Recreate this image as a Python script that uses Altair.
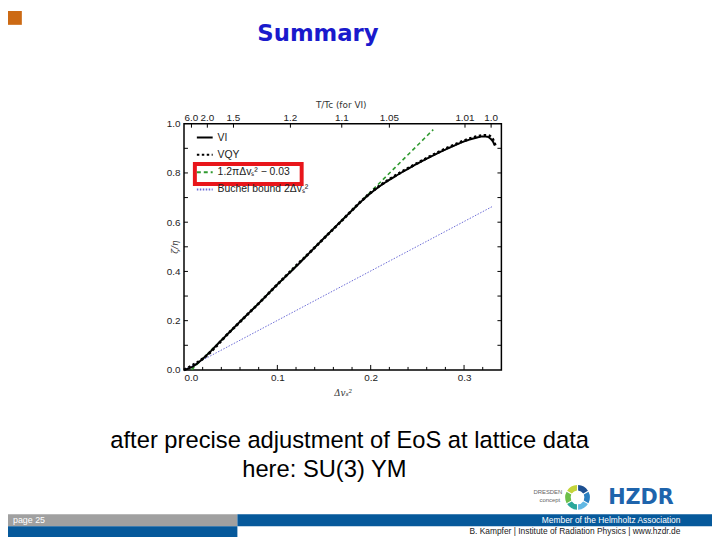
import altair as alt
import pandas as pd

# ---------------- data ----------------
vi_x = [0.0, 0.01, 0.02, 0.04, 0.06, 0.08, 0.10, 0.12, 0.14, 0.16, 0.18, 0.19, 0.20, 0.21, 0.22,
        0.23, 0.24, 0.25, 0.26, 0.27, 0.28, 0.29, 0.30, 0.31, 0.315, 0.32, 0.325, 0.328, 0.331, 0.333]
vi_y = [0.0, 0.015, 0.045, 0.12, 0.196, 0.27, 0.347, 0.42, 0.497, 0.573, 0.648, 0.685, 0.718, 0.747,
        0.772, 0.795, 0.817, 0.838, 0.858, 0.877, 0.895, 0.912, 0.928, 0.94, 0.945, 0.948, 0.947,
        0.94, 0.927, 0.912]
vqy_x = [0.0, 0.02, 0.05, 0.08, 0.11, 0.14, 0.17, 0.19, 0.20, 0.21, 0.22, 0.24, 0.26, 0.28, 0.30,
         0.31, 0.32, 0.325, 0.329, 0.332, 0.334]
vqy_y = [0.0, 0.045, 0.158, 0.27, 0.385, 0.497, 0.61, 0.686, 0.72, 0.749, 0.774, 0.819, 0.86, 0.898,
         0.931, 0.944, 0.952, 0.953, 0.945, 0.927, 0.905]
green_x = [0.008, 0.267]
green_y = [0.0, 0.976]
blue_x = [0.0, 0.33]
blue_y = [0.0, 0.663]

series_names = ["VI", "VQY", "1.2πΔvₛ² − 0.03", "Buchel bound 2Δvₛ²"]
series_colors = ["#000000", "#000000", "#2f9a2f", "#6a6ad6"]
series_dashes = [[1, 0], [2.5, 2.5], [4, 3], [1.5, 1.5]]
series_widths = [2.0, 2.8, 1.6, 1.0]

x_ticks = [0.0, 0.1, 0.2, 0.3]
x_minor = [0.02, 0.04, 0.06, 0.08, 0.12, 0.14, 0.16, 0.18, 0.22, 0.24, 0.26, 0.28, 0.32]
y_ticks = [0.0, 0.2, 0.4, 0.6, 0.8, 1.0]
y_minor = [0.1, 0.2, 0.3, 0.4, 0.5, 0.6, 0.7, 0.8, 0.9]
top_vals = [0.008, 0.025, 0.053, 0.114, 0.169, 0.220, 0.301, 0.329]
top_labels = ["6.0", "2.0", "1.5", "1.2", "1.1", "1.05", "1.01", "1.0"]

slide_title = "Summary"
body_lines = ["after precise adjustment of EoS at lattice data", "here: SU(3) YM"]
footer_page = "page 25"
footer_member = "Member of the Helmholtz Association"
footer_credit = "B. Kampfer  |  Institute of Radiation Physics  |  www.hzdr.de"
logo_colors = ["#1d4f91", "#2a7fc1", "#62b8e4", "#2aa79b", "#6cbf4a", "#c4d43a"]
logo_parts = [1, 1, 1, 1, 1, 1]

# ---------------- chart ----------------
W, H = 321, 249
xs = alt.Scale(domain=[0, 0.34], nice=False, zero=False)
ys = alt.Scale(domain=[0, 1.0], nice=False)
xaxis = alt.Axis(values=x_ticks, format=".1f", title="Δvₛ²", titleFont="DejaVu Serif",
                 titleFontStyle="italic", titleFontSize=9, titleFontWeight="normal",
                 titlePadding=6, titleColor="#333")
yaxis = alt.Axis(values=y_ticks, format=".1f", title="ζ/η", titleFont="DejaVu Serif",
                 titleFontStyle="italic", titleFontSize=9, titleFontWeight="normal",
                 titleX=-10, titleY=H / 2, titleAlign="center", titleBaseline="middle",
                 titleColor="#333", labelPadding=4)
legend = alt.Legend(orient="none", legendX=12, legendY=5, title=None, symbolType="stroke",
                    symbolSize=256, symbolStrokeWidth=2, labelFont="Liberation Sans",
                    labelFontSize=10.5, labelColor="#222", padding=0, rowPadding=2.5,
                    labelOffset=4)


def X(field="x"):
    return alt.X(f"{field}:Q", scale=xs, axis=xaxis)


def Y(field="y"):
    return alt.Y(f"{field}:Q", scale=ys, axis=yaxis)


series_data = [(vi_x, vi_y), (vqy_x, vqy_y), (green_x, green_y), (blue_x, blue_y)]
line_layers = []
for idx in [3, 2, 0, 1]:
    sx, sy = series_data[idx]
    df = pd.DataFrame({"x": sx, "y": sy, "series": series_names[idx]})
    line_layers.append(
        alt.Chart(df).mark_line(strokeWidth=series_widths[idx], strokeCap="butt",
                                interpolate="monotone").encode(
            x=X(), y=Y(),
            color=alt.Color("series:N", scale=alt.Scale(domain=series_names, range=series_colors),
                            legend=legend),
            strokeDash=alt.StrokeDash("series:N",
                                      scale=alt.Scale(domain=series_names, range=series_dashes),
                                      legend=legend),
        )
    )

one = pd.DataFrame({"a": [0]})


def rect(x1, x2, y1, y2, color):
    return alt.Chart(one).mark_rect(color=color).encode(
        x=alt.value(x1), x2=alt.value(x2), y=alt.value(y1), y2=alt.value(y2))


def txt(s, x, y, size, color="#000", font="Liberation Sans", weight="normal", align="center",
        style="normal"):
    return alt.Chart(pd.DataFrame({"t": [s]})).mark_text(
        align=align, baseline="alphabetic", font=font, fontSize=size, fontWeight=weight,
        fontStyle=style, color=color).encode(text="t:N", x=alt.value(x), y=alt.value(y))


# inward ticks
tk = "#000"
xmaj = alt.Chart(pd.DataFrame({"x": x_ticks[1:]})).mark_rule(color=tk, strokeWidth=1).encode(
    x=X(), y=alt.value(H), y2=alt.value(H - 5))
xmin = alt.Chart(pd.DataFrame({"x": x_minor})).mark_rule(color=tk, strokeWidth=1).encode(
    x=X(), y=alt.value(H), y2=alt.value(H - 3))
yl = alt.Chart(pd.DataFrame({"y": y_minor})).mark_rule(color=tk, strokeWidth=1).encode(
    y=Y(), x=alt.value(0), x2=alt.value(4))
yr = alt.Chart(pd.DataFrame({"y": y_minor})).mark_rule(color=tk, strokeWidth=1).encode(
    y=Y(), x=alt.value(W - 4), x2=alt.value(W))
top_df = pd.DataFrame({"x": top_vals, "lab": top_labels})
topt = alt.Chart(top_df).mark_rule(color=tk, strokeWidth=1).encode(
    x=X(), y=alt.value(0), y2=alt.value(4))
topl = alt.Chart(top_df).mark_text(font="Liberation Sans", fontSize=10, color="#222",
                                   baseline="alphabetic").encode(
    x=X(), y=alt.value(-3), text="lab:N")

top_title = txt("T/Tc (for VI)", 159, -16, 9, color="#333", font="DejaVu Sans")
red_box = alt.Chart(one).mark_rect(fillOpacity=0, stroke="#e8161b", strokeWidth=4).encode(
    x=alt.value(11), x2=alt.value(119), y=alt.value(40.7), y2=alt.value(61))

# slide decoration (view coordinates: page minus (186,122))
orange = rect(-178, -164, -114, -100, "#cc6a14")
title_t = txt(slide_title, 135.5, -83.5, 23, color="#1a1acc", font="DejaVu Sans", weight="bold")
body1 = txt(body_lines[0], 167.5, 328, 24)
body2 = txt(body_lines[1], 142, 357, 24)
gray_bar = rect(-178, 54, 395, 407, "#a0a0a0")
blue_bar1 = rect(54, 534, 395, 407, "#06599b")
blue_bar2 = rect(-178, 54, 407, 418, "#06599b")
page_t = txt(footer_page, -173, 404, 9, color="#ffffff", align="left")
member_t = txt(footer_member, 502, 404, 8.5, color="#ffffff", align="right")
credit_t = txt(footer_credit, 502, 415, 8.5, color="#222222", align="right")
dres1 = txt("DRESDEN", 368, 375, 6, color="#666666")
dres2 = txt("concept", 370, 383, 6, color="#666666")
ring = alt.Chart(pd.DataFrame({"w": logo_parts, "c": logo_colors, "o": list(range(6))})).mark_arc(
    padAngle=0.08).encode(
    theta=alt.Theta("w:Q", stack=True), fill=alt.Fill("c:N", scale=None),
    order=alt.Order("o:Q"),
    x=alt.value(398), y=alt.value(378), radius=alt.value(12.5), radius2=alt.value(7))
hzdr = txt("HZDR", 429, 385, 21, color="#1e64ac", font="DejaVu Sans", weight="bold", align="left")

chart = alt.layer(
    *line_layers, xmaj, xmin, yl, yr, topt, topl, top_title, red_box,
    orange, title_t, body1, body2, gray_bar, blue_bar1, blue_bar2, page_t, member_t, credit_t,
    dres1, dres2, ring, hzdr,
).properties(
    width=W, height=H,
    autosize=alt.AutoSizeParams(type="none"),
    padding={"left": 178, "top": 114, "right": 213, "bottom": 169},
    background="white",
).configure_view(
    stroke="#000", strokeWidth=1.5
).configure_axis(
    grid=False, domain=False, ticks=False, labelFont="Liberation Sans", labelFontSize=10,
    labelColor="#222", labelPadding=3,
)

chart.save("out.html", embed_options={"renderer": "svg", "actions": False})
